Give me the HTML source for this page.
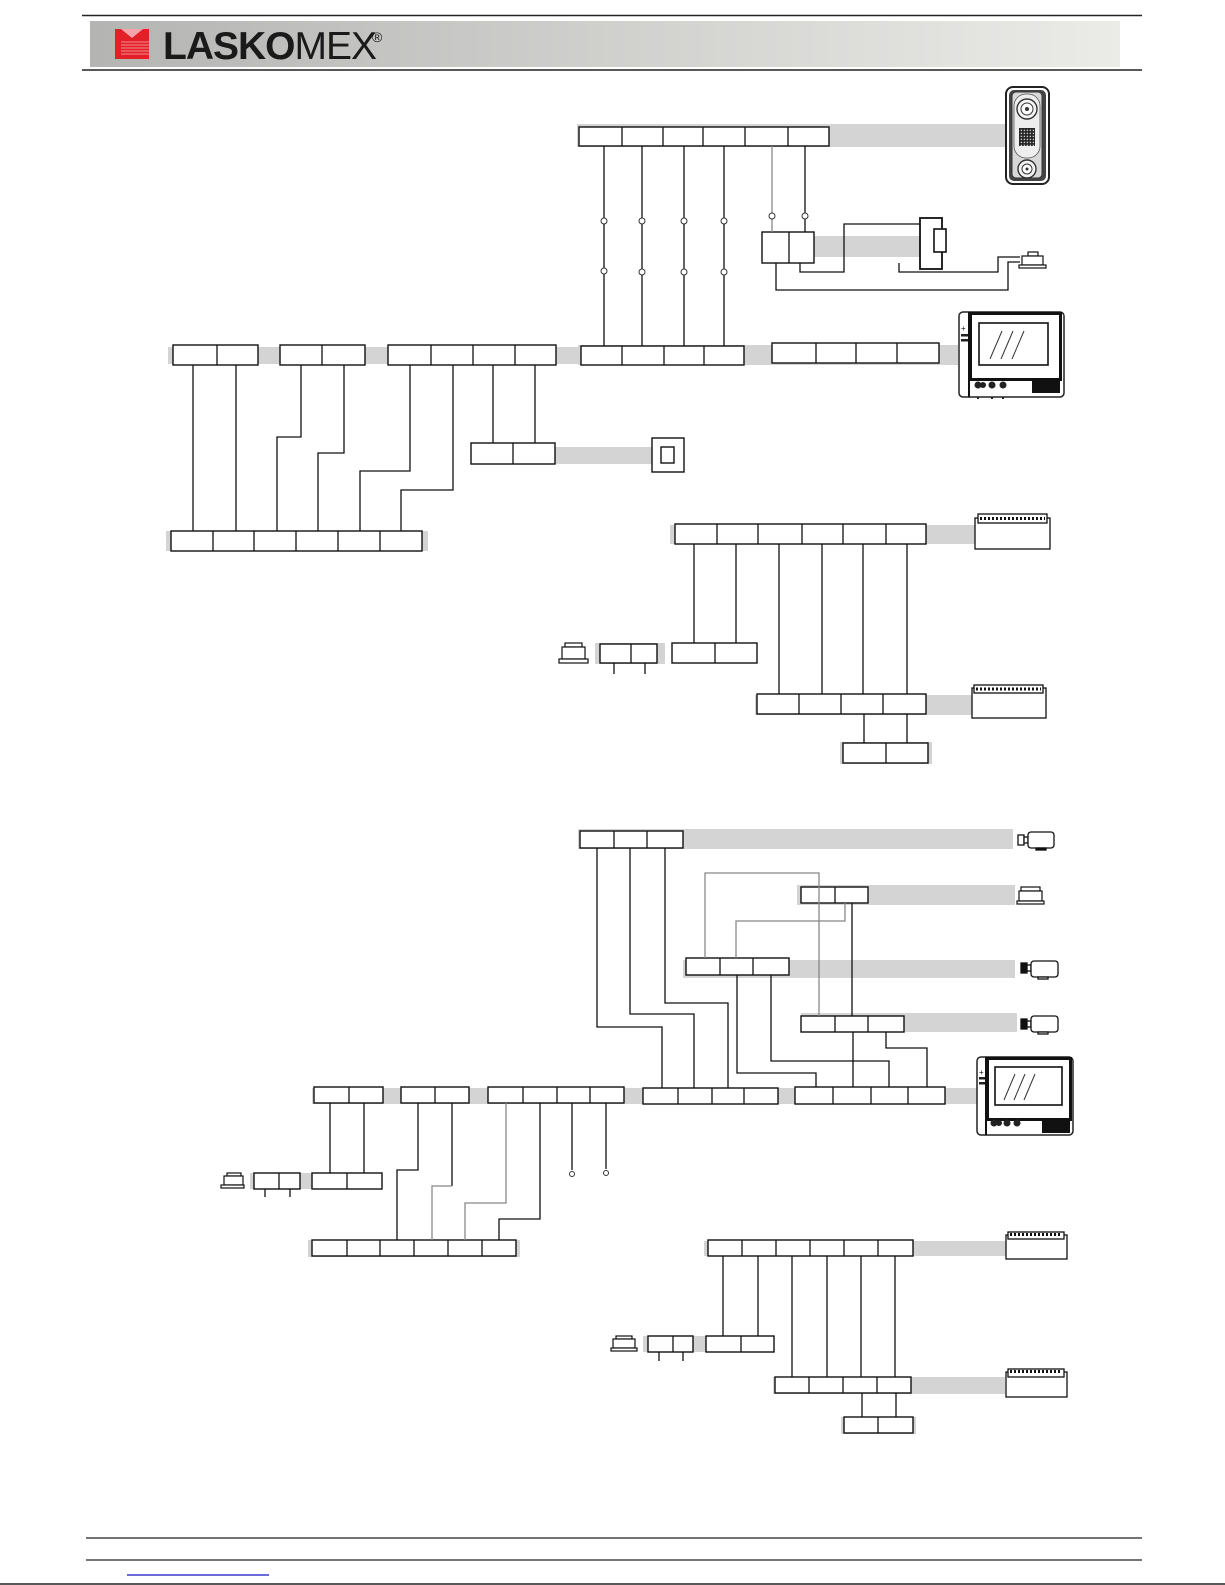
<!DOCTYPE html>
<html><head><meta charset="utf-8"><style>
html,body{margin:0;padding:0;background:#fff;}
svg{display:block;}
</style></head><body>
<svg width="1225" height="1585" viewBox="0 0 1225 1585" xmlns="http://www.w3.org/2000/svg" font-family="Liberation Sans, sans-serif">
<defs>
<linearGradient id="hg" x1="0" x2="1" y1="0" y2="0"><stop offset="0" stop-color="#b4b4b2"/><stop offset="1" stop-color="#ebebe8"/></linearGradient>
<pattern id="grid" width="3" height="3" patternUnits="userSpaceOnUse"><rect width="3" height="3" fill="#222"/><rect x="0.7" y="0.7" width="1.4" height="1.4" fill="#ccc"/></pattern>
</defs>
<!-- header -->
<line x1="82" y1="15.5" x2="1142" y2="15.5" stroke="#222" stroke-width="1.5"/>
<rect x="90" y="21" width="1030" height="46" fill="url(#hg)"/>
<line x1="82" y1="70" x2="1142" y2="70" stroke="#222" stroke-width="1.5"/>
<rect x="115" y="29" width="34" height="30" fill="#e32028"/>
<g stroke="#f5b0b0" stroke-width="0.8"><line x1="121" y1="42" x2="149" y2="42"/><line x1="121" y1="45" x2="149" y2="45"/><line x1="121" y1="48" x2="149" y2="48"/><line x1="121" y1="51" x2="149" y2="51"/><line x1="121" y1="54" x2="149" y2="54"/></g>
<polygon points="121,29 132,38 143,29" fill="#fff" opacity="0.6"/>
<text x="163" y="59" font-size="39" font-weight="bold" fill="#1a1a1a" letter-spacing="-1">LASKO<tspan font-weight="normal">MEX</tspan></text>
<text x="372" y="42" font-size="14" fill="#1a1a1a">®</text>

<!-- footer -->
<line x1="86" y1="1538" x2="1142" y2="1538" stroke="#222" stroke-width="1.3"/>
<line x1="86" y1="1560" x2="1142" y2="1560" stroke="#222" stroke-width="1.3"/>
<line x1="127" y1="1575" x2="269" y2="1575" stroke="#1010c0" stroke-width="1.3"/>
<line x1="0" y1="1584" x2="1225" y2="1584" stroke="#222" stroke-width="1.5"/>

<!-- gray bands -->
<g fill="#d4d4d4">
<rect x="577" y="124" width="430" height="23"/>
<rect x="814" y="236" width="106" height="21"/>
<rect x="168" y="347" width="410" height="17"/>
<rect x="578" y="345" width="380" height="20"/>
<rect x="555" y="447" width="97" height="17"/>
<rect x="166" y="531" width="262" height="20"/>
<rect x="670" y="525" width="305" height="19"/>
<rect x="595" y="643" width="70" height="21"/>
<rect x="755" y="695" width="217" height="20"/>
<rect x="840" y="742" width="92" height="22"/>
<rect x="578" y="829" width="435" height="20"/>
<rect x="797" y="885" width="218" height="20"/>
<rect x="683" y="960" width="332" height="18"/>
<rect x="801" y="1013" width="216" height="19"/>
<rect x="312" y="1088" width="665" height="16"/>
<rect x="250" y="1173" width="62" height="16"/>
<rect x="308" y="1240" width="212" height="17"/>
<rect x="704" y="1241" width="303" height="15"/>
<rect x="643" y="1336" width="66" height="16"/>
<rect x="773" y="1377" width="232" height="17"/>
<rect x="841" y="1417" width="75" height="17"/>
</g>

<g fill="#fff" stroke="#111" stroke-width="1.4">
<rect x="579" y="127" width="250" height="19"/>
<rect x="762" y="232" width="52" height="31"/>
<rect x="173" y="345" width="85" height="20"/>
<rect x="280" y="345" width="85" height="20"/>
<rect x="388" y="345" width="168" height="20"/>
<rect x="581" y="346" width="163" height="19"/>
<rect x="772" y="343" width="167" height="20"/>
<rect x="471" y="443" width="84" height="21"/>
<rect x="652" y="438" width="32" height="34"/>
<rect x="661" y="447" width="13" height="16"/>
<rect x="171" y="531" width="251" height="20"/>
<rect x="675" y="524" width="251" height="20"/>
<rect x="600" y="644" width="57" height="19"/>
<rect x="672" y="643" width="85" height="20"/>
<rect x="757" y="694" width="169" height="20"/>
<rect x="843" y="743" width="85" height="20"/>
<rect x="580" y="831" width="103" height="17"/>
<rect x="801" y="887" width="67" height="16"/>
<rect x="686" y="958" width="103" height="17"/>
<rect x="801" y="1016" width="103" height="16"/>
<rect x="314" y="1087" width="69" height="16"/>
<rect x="401" y="1087" width="68" height="16"/>
<rect x="488" y="1087" width="136" height="16"/>
<rect x="643" y="1088" width="135" height="16"/>
<rect x="795" y="1087" width="150" height="17"/>
<rect x="254" y="1173" width="46" height="16"/>
<rect x="312" y="1173" width="70" height="16"/>
<rect x="312" y="1240" width="204" height="16"/>
<rect x="708" y="1240" width="205" height="16"/>
<rect x="648" y="1336" width="45" height="16"/>
<rect x="706" y="1336" width="68" height="16"/>
<rect x="775" y="1377" width="136" height="16"/>
<rect x="844" y="1417" width="69" height="16"/>
</g>

<g stroke="#111" stroke-width="1.3" fill="none">
<path d="M622 127v19M663 127v19M703 127v19M745 127v19M788 127v19"/>
<path d="M789 232v31"/>
<path d="M217 345v20M322 345v20M431 345v20M473 345v20M515 345v20"/>
<path d="M622 346v19M664 346v19M704 346v19"/>
<path d="M816 343v20M856 343v20M897 343v20"/>
<path d="M513 443v21"/>
<path d="M213 531v20M254 531v20M296 531v20M338 531v20M380 531v20"/>
<path d="M717 524v20M758 524v20M802 524v20M843 524v20M886 524v20"/>
<path d="M631 644v19M715 643v20"/>
<path d="M799 694v20M841 694v20M883 694v20M886 743v20"/>
<path d="M614 831v17M647 831v17M835 887v16M720 958v17M753 958v17M835 1016v16M868 1016v16"/>
<path d="M349 1087v16M435 1087v16M523 1087v16M557 1087v16M590 1087v16"/>
<path d="M678 1088v16M712 1088v16M744 1088v16M833 1087v17M871 1087v17M908 1087v17"/>
<path d="M279 1173v16M347 1173v16"/>
<path d="M347 1240v16M380 1240v16M414 1240v16M448 1240v16M482 1240v16"/>
<path d="M742 1240v16M776 1240v16M810 1240v16M844 1240v16M878 1240v16"/>
<path d="M673 1336v16M741 1336v16M809 1377v16M843 1377v16M877 1377v16M878 1417v16"/>

<path d="M604 146V346M642 146V346M684 146V346M724 146V346"/>
<path d="M805 146V232"/>
<path d="M193 365V531M236 365V531M301 365V437H277V531M344 365V453H318V531M410 365V471H360V531M453 365V490H401V531"/>
<path d="M493 365V443M535 365V443"/>
<path d="M694 544V643M736 544V643M779 544V694M822 544V694M863 544V694M907 544V694M864 714V743M907 714V743"/>
<path d="M614 663v11M645 663v11"/>
<path d="M800 263V272H844V224H920"/>
<path d="M899 263V272H998V257H1020"/>
<path d="M776 263V290H1008V262H1020"/>
<path d="M597 848V1027H662V1088M630 848V1014H694V1088M665 848V1003H728V1088"/>
<path d="M852 903V1016M737 975V1073H816V1087M771 975V1061H889V1087M853 1032V1087M886 1032V1048H927V1087"/>
<path d="M330 1103V1173M364 1103V1173M418 1103V1170H397V1240M452 1103V1186M540 1103V1219H499V1240M572 1103V1170M606 1103V1169"/>
<path d="M265 1189v8M290 1189v8"/>
<path d="M723 1256V1336M758 1256V1336M792 1256V1377M827 1256V1377M861 1256V1377M895 1256V1377M862 1393V1417M896 1393V1417"/>
<path d="M659 1352v9M683 1352v9"/>
</g>
<g stroke="#888" stroke-width="1.3" fill="none">
<path d="M772 146V232"/>
<path d="M452 1186H432V1240M506 1103V1203H465V1240"/>
<path d="M705 958V873H819V1016M845 903V921H736V958"/>
</g>
<g fill="#fff" stroke="#333" stroke-width="1">
<circle cx="604" cy="221" r="3"/><circle cx="642" cy="221" r="3"/><circle cx="684" cy="221" r="3"/><circle cx="724" cy="221" r="3"/>
<circle cx="604" cy="271" r="3"/><circle cx="642" cy="272" r="3"/><circle cx="684" cy="272" r="3"/><circle cx="724" cy="272" r="3"/>
<circle cx="772" cy="216" r="3"/><circle cx="805" cy="216" r="3"/>
<circle cx="572" cy="1174" r="2.5"/><circle cx="606" cy="1173" r="2.5"/>
</g>

<rect x="920" y="218" width="22" height="51" fill="#fff" stroke="#111" stroke-width="1.8"/>
<rect x="934" y="229" width="12" height="23" fill="#fff" stroke="#111" stroke-width="1.6"/>

<g fill="#fff" stroke="#111" stroke-width="1.2">
<rect x="1028" y="252" width="10" height="4"/><rect x="1022" y="256" width="21" height="9"/><rect x="1019" y="265" width="27" height="3"/>
<rect x="565" y="643" width="17" height="4"/><rect x="562" y="647" width="23" height="12"/><rect x="559" y="659" width="29" height="4"/>
<rect x="1021" y="887" width="19" height="4"/><rect x="1019" y="891" width="23" height="10"/><rect x="1017" y="901" width="27" height="3"/>
<rect x="227" y="1173" width="14" height="3"/><rect x="224" y="1176" width="19" height="9"/><rect x="221" y="1185" width="23" height="3"/>
<rect x="616" y="1336" width="16" height="3"/><rect x="613" y="1339" width="22" height="9"/><rect x="611" y="1348" width="26" height="3"/>
</g>

<!-- door panel -->
<rect x="1006" y="87" width="43" height="97" rx="7" fill="#fff" stroke="#222" stroke-width="2"/>
<rect x="1009" y="90" width="37" height="91" rx="5" fill="#444"/>
<rect x="1012" y="92" width="30" height="86" rx="4" fill="#d8d8d8" stroke="#333"/>
<rect x="1014" y="94" width="26" height="64" rx="12" fill="#eee" stroke="#555" stroke-width="0.8"/>
<circle cx="1027" cy="109" r="10" fill="#f4f4f4" stroke="#333" stroke-width="1.4"/><circle cx="1027" cy="109" r="6" fill="#fff" stroke="#333"/><circle cx="1027" cy="109" r="2" fill="#333"/>
<rect x="1019" y="128" width="16" height="18" fill="url(#grid)"/>
<circle cx="1027" cy="169" r="9" fill="#f4f4f4" stroke="#333" stroke-width="1.4"/><circle cx="1027" cy="169" r="5" fill="#fff" stroke="#333"/><circle cx="1027" cy="169" r="1.5" fill="#333"/>

<!-- monitor 1 -->
<rect x="959" y="312" width="105" height="85" rx="4" fill="#fff" stroke="#222" stroke-width="1.5"/>
<rect x="970.5" y="313.5" width="90" height="66" fill="#fff" stroke="#111" stroke-width="3"/>
<rect x="979" y="323" width="69" height="42" fill="#fff" stroke="#111" stroke-width="1.6"/>
<path d="M990 359l12-28M1001 359l12-28M1012 359l12-28" stroke="#333"/>
<line x1="969" y1="312" x2="969" y2="397" stroke="#111" stroke-width="2"/>
<text x="961" y="331" font-size="8" fill="#111">+</text>
<rect x="961" y="334" width="7" height="2.5" fill="#222"/><rect x="961" y="339" width="7" height="2.5" fill="#222"/>
<rect x="1032" y="379" width="28" height="14" fill="#111"/>
<circle cx="978" cy="385" r="3.5" fill="#222"/><circle cx="983" cy="385" r="3" fill="#222"/><circle cx="992" cy="385" r="3.5" fill="#222"/><circle cx="1003" cy="385" r="3.5" fill="#222"/>
<path d="M978 397v2M992 397v2M1003 397v2" stroke="#222" stroke-width="2"/>

<!-- monitor 2 -->
<rect x="977" y="1057" width="96" height="78" rx="4" fill="#fff" stroke="#222" stroke-width="1.5"/>
<rect x="987.5" y="1058.5" width="83" height="61" fill="#fff" stroke="#111" stroke-width="3"/>
<rect x="995" y="1067" width="67" height="38" fill="#fff" stroke="#111" stroke-width="1.6"/>
<path d="M1004 1100l11-26M1014 1100l11-26M1024 1100l11-26" stroke="#333"/>
<line x1="986" y1="1057" x2="986" y2="1135" stroke="#111" stroke-width="2"/>
<text x="979" y="1075" font-size="8" fill="#111">+</text>
<rect x="979" y="1077" width="6" height="2.5" fill="#222"/><rect x="979" y="1082" width="6" height="2.5" fill="#222"/>
<rect x="1042" y="1119" width="28" height="14" fill="#111"/>
<circle cx="994" cy="1123" r="3.5" fill="#222"/><circle cx="999" cy="1123" r="3" fill="#222"/><circle cx="1007" cy="1123" r="3.5" fill="#222"/><circle cx="1017" cy="1123" r="3.5" fill="#222"/>

<g fill="#fff" stroke="#111" stroke-width="1.3">
<rect x="1018" y="835" width="6" height="10"/><rect x="1024" y="837" width="4" height="6"/><rect x="1028" y="832" width="26" height="16" rx="3"/><rect x="1036" y="848" width="10" height="2" fill="#111"/>
<rect x="1021" y="963" width="6" height="10" fill="#111"/><rect x="1027" y="965" width="4" height="6"/><rect x="1031" y="961" width="27" height="16" rx="3"/><rect x="1038" y="977" width="10" height="2"/>
<rect x="1021" y="1019" width="6" height="10" fill="#111"/><rect x="1027" y="1021" width="4" height="6"/><rect x="1031" y="1016" width="27" height="16" rx="3"/><rect x="1038" y="1032" width="10" height="2"/>
</g>

<g fill="#fff" stroke="#111" stroke-width="1.3">
<rect x="975" y="518" width="75" height="31"/><rect x="978" y="514" width="69" height="9"/>
<rect x="972" y="688" width="74" height="30"/><rect x="974" y="685" width="69" height="8"/>
<rect x="1006" y="1235" width="61" height="24"/><rect x="1008" y="1232" width="56" height="7"/>
<rect x="1006" y="1372" width="61" height="25"/><rect x="1008" y="1369" width="56" height="8"/>
</g>
<g stroke="#111" stroke-width="3" stroke-dasharray="2,2">
<line x1="980" y1="518.5" x2="1045" y2="518.5"/>
<line x1="976" y1="689" x2="1041" y2="689"/>
<line x1="1010" y1="1234.5" x2="1062" y2="1234.5"/>
<line x1="1010" y1="1371.5" x2="1062" y2="1371.5"/>
</g>
</svg>
</body></html>
